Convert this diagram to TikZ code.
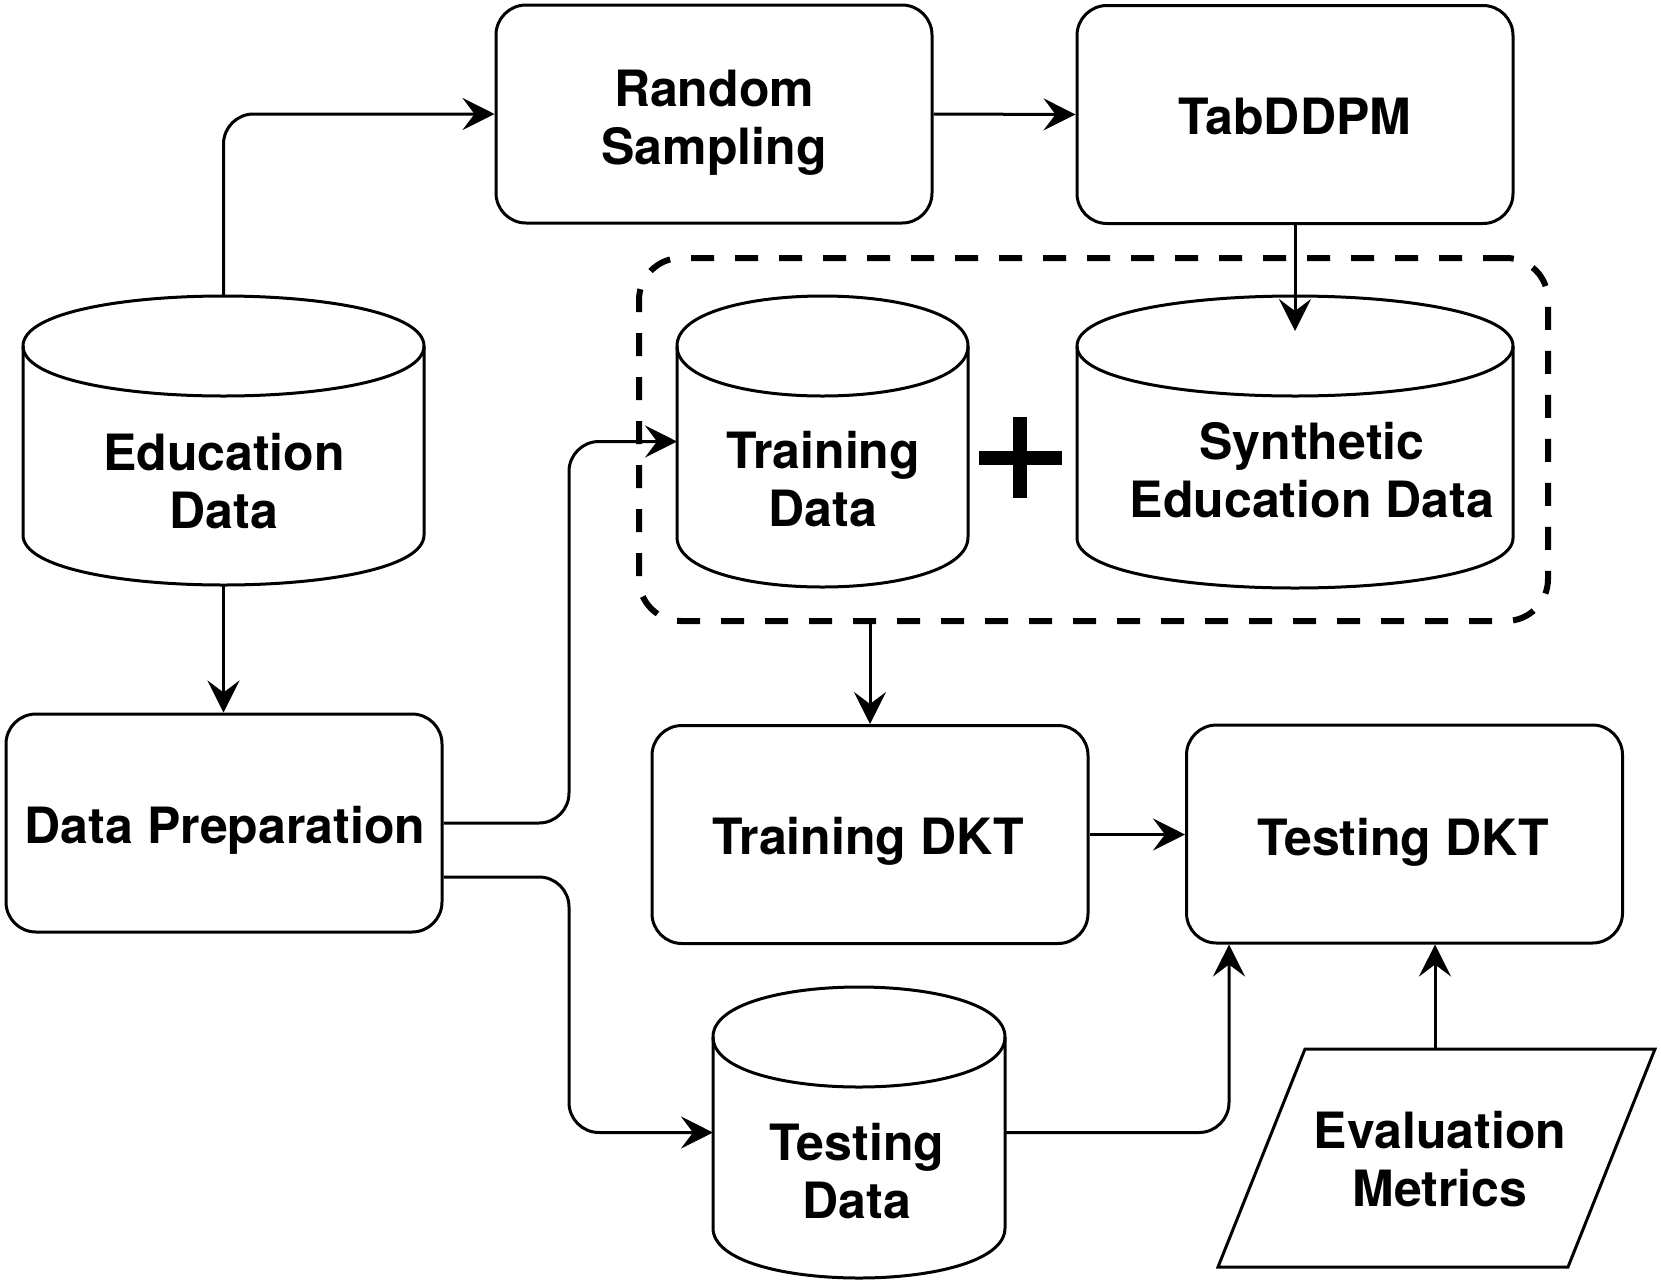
\documentclass[tikz,border=0pt]{standalone}
\usepackage{fontspec}
\setmainfont{TeX Gyre Heros}
\usetikzlibrary{arrows.meta}
\newcommand\twolines[2]{\vtop{\baselineskip=29pt\halign{\hfil##\hfil\cr #1\cr #2\cr}}}
\newcommand\cyl[5]{%
  \draw[line width=1.5pt, fill=white] (#2,{#3+50}) .. controls (#2,{#3-50/3}) and (#4,{#3-50/3}) .. (#4,{#3+50})
    -- (#4,{#5-50}) .. controls (#4,{#5+50/3}) and (#2,{#5+50/3}) .. (#2,{#5-50}) -- cycle;
  \draw[line width=1.5pt] (#2,{#3+50}) .. controls (#2,{#3+350/3}) and (#4,{#3+350/3}) .. (#4,{#3+50});
  \node[cylbox, minimum width={(#4-#2)*0.5pt}, minimum height={(#5-#3)*0.5pt}] (#1) at ({(#2+#4)/2},{(#3+#5)/2}) {};
}
\begin{document}
\begin{tikzpicture}[x=0.5pt, y=-0.5pt,
  box/.style={draw, line width=1.5pt, rounded corners=15pt, minimum width=218pt, minimum height=109pt, inner sep=0pt, fill=white},
  lbl/.style={anchor=base, inner sep=0pt, font=\fontsize{25pt}{29pt}\selectfont\bfseries},
  arr/.style={line width=1.5pt, -{Stealth[length=16pt, width=16pt, inset=6pt]}},
  cylbox/.style={inner sep=0pt, outer sep=0pt}]
\useasboundingbox (0,0) rectangle (1661,1286);

% group frame
\node[draw, line width=3pt, dash pattern=on 11.5pt off 10.5pt, rounded corners=21pt,
      minimum width=454.5pt, minimum height=181.5pt, inner sep=0pt] (grp) at (1093.5,439.5) {};

% cylinders
\cyl{ed}{23}{296}{424}{585}
\cyl{trd}{677}{296}{968}{587}
\cyl{syn}{1077}{296}{1513}{588}
\cyl{ted}{713}{987}{1005}{1278}

% boxes
\node[box] (rs) at (714,114) {};
\node[box] (tab) at (1295,114.5) {};
\node[box] (dp) at (224,823) {};
\node[box] (tdkt) at (870,834.5) {};
\node[box] (tedkt) at (1404.5,834) {};

% evaluation metrics parallelogram
\coordinate (ev1) at (1218,1267);
\coordinate (ev2) at (1305,1049);
\coordinate (ev3) at (1655,1049);
\coordinate (ev4) at (1568,1267);
\draw[line width=1.5pt, fill=white] (ev1) -- (ev2) -- (ev3) -- (ev4) -- cycle;
\coordinate (evin) at (1435,1049);

% plus sign
\draw[line width=7pt] (979,458) -- (1062,458);
\draw[line width=7pt] (1020,417) -- (1020,498);

% labels
\node[lbl] (rs-t) at (714,106) {\twolines{Random}{Sampling}};
\node[lbl] (tab-t) at (1295,134) {TabDDPM};
\node[lbl] (ed-t) at (224,470) {\twolines{Education}{Data}};
\node[lbl] (dp-t) at (225,843) {Data Preparation};
\node[lbl] (trd-t) at (823,468) {\twolines{Training}{Data}};
\node[lbl] (syn-t) at (1312,459) {\twolines{Synthetic}{Education Data}};
\node[lbl] (tdkt-t) at (868,854) {Training DKT};
\node[lbl] (tedkt-t) at (1403,855) {Testing DKT};
\node[lbl] (ted-t) at (857,1160) {\twolines{Testing}{Data}};
\node[lbl] (ev-t) at (1440,1148) {\twolines{Evaluation}{Metrics}};

% connectors
\coordinate (synin) at (1295,331);
\coordinate (jx) at (569,0);
\coordinate (tx) at (1229,0);
\draw[arr, rounded corners=15pt] (ed.north) |- (rs.west);
\draw[arr] (rs.east) -- (tab.west);
\draw[arr] (tab.south) -- (synin);
\draw[arr] (ed.south) -- (ed.south |- dp.north);
\draw[arr, rounded corners=15pt] (dp.east) -| (jx |- trd.west) -- (trd.west);
\draw[arr, rounded corners=15pt] ([yshift=-27pt]dp.east) -| (jx |- ted.west) -- (ted.west);
\draw[arr] (grp.south -| tdkt.north) -- (tdkt.north);
\draw[arr] (tdkt.east) -- (tdkt.east -| tedkt.west);
\draw[arr, rounded corners=15pt] (ted.east) -| (tx |- tedkt.south);
\draw[arr] (evin) -- (evin |- tedkt.south);
\end{tikzpicture}
\end{document}
